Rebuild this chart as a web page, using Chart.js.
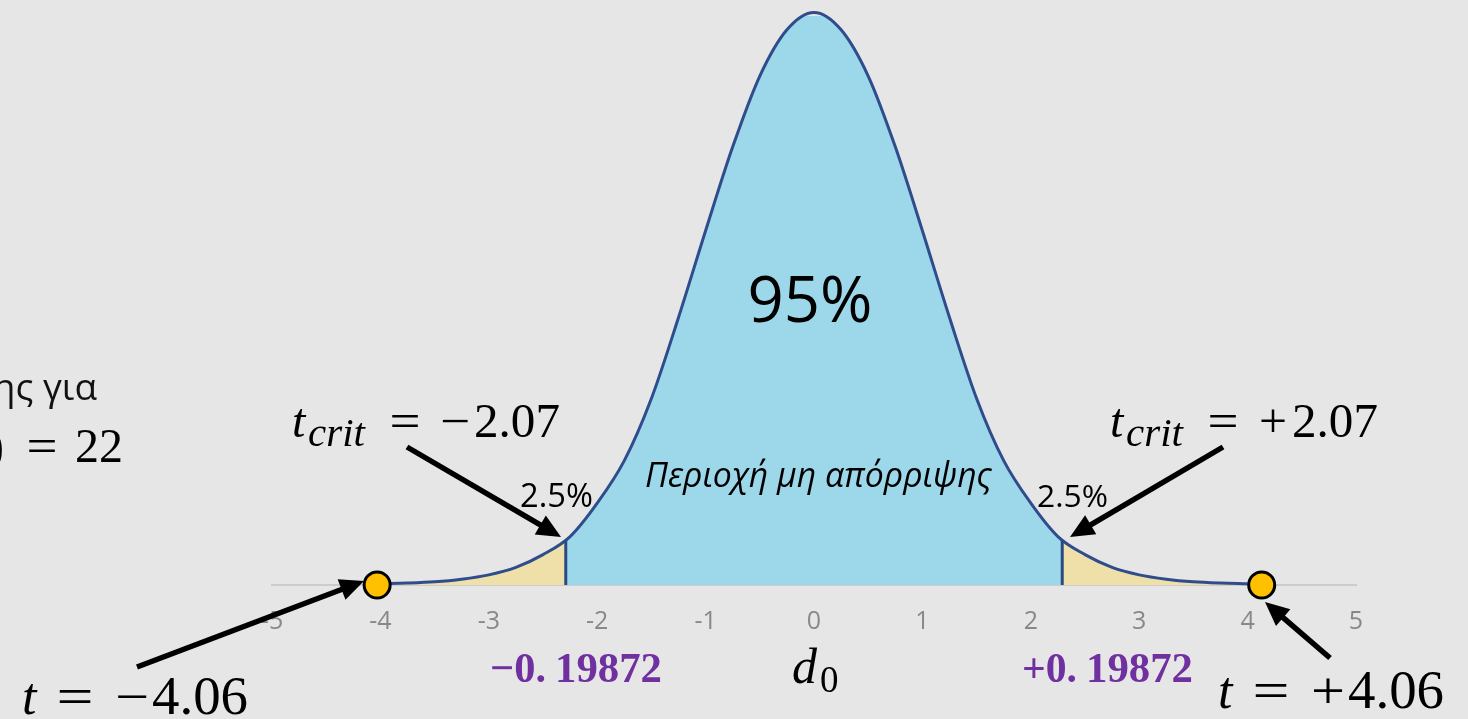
<!DOCTYPE html>
<html>
<head>
<meta charset="utf-8">
<script src="https://cdn.jsdelivr.net/npm/chart.js@4"></script>
<style>
html,body{margin:0;padding:0;background:#e6e6e6;overflow:hidden}
#wrap{width:1468px;height:719px;position:relative}
</style>
</head>
<body>
<div id="wrap"><canvas id="c" width="1468" height="719"></canvas></div>
<script>
// ---- data ----
const xs = [-4, -3.75, -3.5, -3.25, -3, -2.75, -2.5, -2.25, -2, -1.75, -1.5, -1.25, -1, -0.75, -0.5, -0.25,
            0, 0.25, 0.5, 0.75, 1, 1.25, 1.5, 1.75, 2, 2.25, 2.5, 2.75, 3, 3.25, 3.5, 3.75, 4];
const density = [0.0008, 0.0013, 0.0022, 0.0040, 0.0070, 0.0122, 0.0210, 0.0335, 0.0566, 0.0860, 0.1290, 0.1850, 0.2450, 0.3030, 0.3520, 0.3840,
                 0.3960, 0.3840, 0.3520, 0.3030, 0.2450, 0.1850, 0.1290, 0.0860, 0.0566, 0.0335, 0.0210, 0.0122, 0.0070, 0.0040, 0.0022, 0.0013, 0.0008];
const critLeft = -2.29;
const critRight = 2.29;
const critHeight = 0.031;
const tValues = [-4.03, 4.13];
const xMin = -5, xMax = 5;
const yMax = 0.3935;

const BLUE = '#9dd8ea';
const TAIL = '#eee0a8';

function fillGradient(context) {
  const chart = context.chart;
  const area = chart.chartArea;
  if (!area) return BLUE;
  const xs_ = chart.scales.x;
  const g = chart.ctx.createLinearGradient(area.left, 0, area.right, 0);
  const w = area.right - area.left;
  const f1 = Math.min(1, Math.max(0, (xs_.getPixelForValue(critLeft) - area.left) / w));
  const f2 = Math.min(1, Math.max(0, (xs_.getPixelForValue(critRight) - area.left) / w));
  g.addColorStop(0, TAIL);
  g.addColorStop(f1, TAIL);
  g.addColorStop(f1, BLUE);
  g.addColorStop(f2, BLUE);
  g.addColorStop(f2, TAIL);
  g.addColorStop(1, TAIL);
  return g;
}

function arrow(ctx, x1, y1, x2, y2) {
  const L = 24, W = 11;
  const a = Math.atan2(y2 - y1, x2 - x1);
  const bx = x2 - L * Math.cos(a), by = y2 - L * Math.sin(a);
  ctx.save();
  ctx.strokeStyle = '#000';
  ctx.fillStyle = '#000';
  ctx.lineWidth = 5.5;
  ctx.beginPath();
  ctx.moveTo(x1, y1);
  ctx.lineTo(bx + 2 * Math.cos(a), by + 2 * Math.sin(a));
  ctx.stroke();
  ctx.beginPath();
  ctx.moveTo(x2, y2);
  ctx.lineTo(bx + W * Math.sin(a), by - W * Math.cos(a));
  ctx.lineTo(bx - W * Math.sin(a), by + W * Math.cos(a));
  ctx.closePath();
  ctx.fill();
  ctx.restore();
}

function txt(ctx, s, x, y, font, color, align) {
  ctx.font = font;
  ctx.fillStyle = color || '#000';
  ctx.textAlign = align || 'left';
  ctx.textBaseline = 'alphabetic';
  ctx.fillText(s, x, y);
}

// draw a string stretched horizontally to a given width, centred at cx
function sym(ctx, s, cx, y, font, width) {
  ctx.save();
  ctx.font = font;
  ctx.fillStyle = '#000';
  ctx.textAlign = 'center';
  ctx.textBaseline = 'alphabetic';
  const w = ctx.measureText(s).width;
  ctx.translate(cx, y);
  ctx.scale(width / w, 1);
  ctx.fillText(s, 0, 0);
  ctx.restore();
}

function fitFont(ctx, s, width, style, family) {
  ctx.font = style + ' 40px ' + family;
  const w = ctx.measureText(s).width;
  return style + ' ' + (40 * width / w).toFixed(2) + 'px ' + family;
}

const SERIF = '"Liberation Serif", "Times New Roman", serif';
const SANS = '"Open Sans", "Noto Sans", sans-serif';

const annotations = {
  id: 'annotations',
  afterDraw(chart) {
    const ctx = chart.ctx;
    ctx.save();
    // left cut text
    txt(ctx, 'ης για', 97, 400, '37px ' + SANS, '#111', 'right');
    txt(ctx, ')', 4, 462, '48px ' + SERIF, '#000', 'right');
    sym(ctx, '=', 42, 462, '48px ' + SERIF, 31);
    txt(ctx, '22', 75, 462, '48px ' + SERIF, '#000', 'left');

    // 95%
    txt(ctx, '95%', 810, 322, fitFont(ctx, '95%', 125, '', SANS), '#000', 'center');
    // non-rejection region
    txt(ctx, 'Περιοχή μη απόρριψης', 645, 487, fitFont(ctx, 'Περιοχή μη απόρριψης', 347, 'italic', SANS), '#000', 'left');
    // 2.5%
    txt(ctx, '2.5%', 520, 507, fitFont(ctx, '2.5%', 73, '', SANS), '#000', 'left');
    txt(ctx, '2.5%', 1037, 507, fitFont(ctx, '2.5%', 71, '', SANS), '#000', 'left');

    // t_crit labels
    const tcrit = (x0, sign, sw) => {
      txt(ctx, 't', x0, 437, 'italic 48px ' + SERIF, '#000', 'left');
      txt(ctx, 'crit', x0 + 16, 446, 'italic 41px ' + SERIF, '#000', 'left');
      sym(ctx, '=', x0 + 113, 437, '48px ' + SERIF, 31);
      sym(ctx, sign, x0 + 163, 437, '48px ' + SERIF, sw);
      txt(ctx, '2.07', x0 + 182, 437, fitFont(ctx, '2.07', 86, '', SERIF), '#000', 'left');
    };
    tcrit(292, '\u2212', 30);
    tcrit(1110, '+', 28);

    // t = ±4.06
    const tval = (x0, sign, base) => {
      txt(ctx, 't', x0, base, 'italic 52px ' + SERIF, '#000', 'left');
      sym(ctx, '=', x0 + 53, base, '52px ' + SERIF, 37);
      sym(ctx, sign, x0 + 110, base, '52px ' + SERIF, 34);
      txt(ctx, '4.06', x0 + 130, base, fitFont(ctx, '4.06', 96, '', SERIF), '#000', 'left');
    };
    tval(22, '\u2212', 714);
    tval(1218, '+', 708);

    // d0
    txt(ctx, 'd', 792, 683, 'italic 50px ' + SERIF, '#000', 'left');
    txt(ctx, '0', 820, 692, '37px ' + SERIF, '#000', 'left');

    // purple bounds
    const P = '#7030a0';
    txt(ctx, '\u22120.', 490, 682, fitFont(ctx, '\u22120.', 56, 'bold', SERIF), P, 'left');
    txt(ctx, '19872', 555, 682, fitFont(ctx, '19872', 107, 'bold', SERIF), P, 'left');
    txt(ctx, '+0.', 1022, 682, fitFont(ctx, '+0.', 55, 'bold', SERIF), P, 'left');
    txt(ctx, '19872', 1086, 682, fitFont(ctx, '19872', 107, 'bold', SERIF), P, 'left');

    // arrows
    arrow(ctx, 407, 447, 561, 537);
    arrow(ctx, 1223, 447, 1070, 537);
    arrow(ctx, 137, 667, 364, 581);
    arrow(ctx, 1330, 658, 1265, 602);
    ctx.restore();
  }
};

const ctx = document.getElementById('c').getContext('2d');
new Chart(ctx, {
  type: 'line',
  data: {
    datasets: [
      {
        label: 'density',
        data: xs.map((x, i) => ({ x: x, y: density[i] })),
        borderColor: '#2f4c8c',
        borderWidth: 3,
        pointRadius: 0,
        fill: 'origin',
        backgroundColor: fillGradient,
        cubicInterpolationMode: 'monotone',
        clip: false,
        order: 3
      },
      {
        label: 'critL',
        data: [{ x: critLeft, y: 0 }, { x: critLeft, y: critHeight }],
        borderColor: '#2b4a82',
        borderWidth: 3,
        pointRadius: 0,
        fill: false,
        order: 2
      },
      {
        label: 'critR',
        data: [{ x: critRight, y: 0 }, { x: critRight, y: critHeight }],
        borderColor: '#2b4a82',
        borderWidth: 3,
        pointRadius: 0,
        fill: false,
        order: 2
      },
      {
        label: 't',
        data: tValues.map(x => ({ x: x, y: 0 })),
        showLine: false,
        pointRadius: 13,
        pointBorderWidth: 3,
        pointBackgroundColor: '#ffc000',
        pointBorderColor: '#000',
        clip: false,
        order: 1
      }
    ]
  },
  options: {
    responsive: false,
    animation: false,
    plugins: { legend: { display: false }, tooltip: { enabled: false } },
    layout: { padding: { left: 272, right: 112, top: 6, bottom: 60 } },
    scales: {
      x: {
        type: 'linear', min: xMin, max: xMax,
        ticks: { stepSize: 1, autoSkip: false, maxRotation: 0, color: '#888',
                 font: { family: 'Open Sans', size: 25 }, padding: 22,
                 callback: v => String(v) },
        grid: { display: false, drawTicks: false },
        border: { display: true, color: '#cccccc', width: 2 }
      },
      y: { display: false, min: 0, max: yMax }
    }
  },
  plugins: [annotations]
});
</script>
</body>
</html>
